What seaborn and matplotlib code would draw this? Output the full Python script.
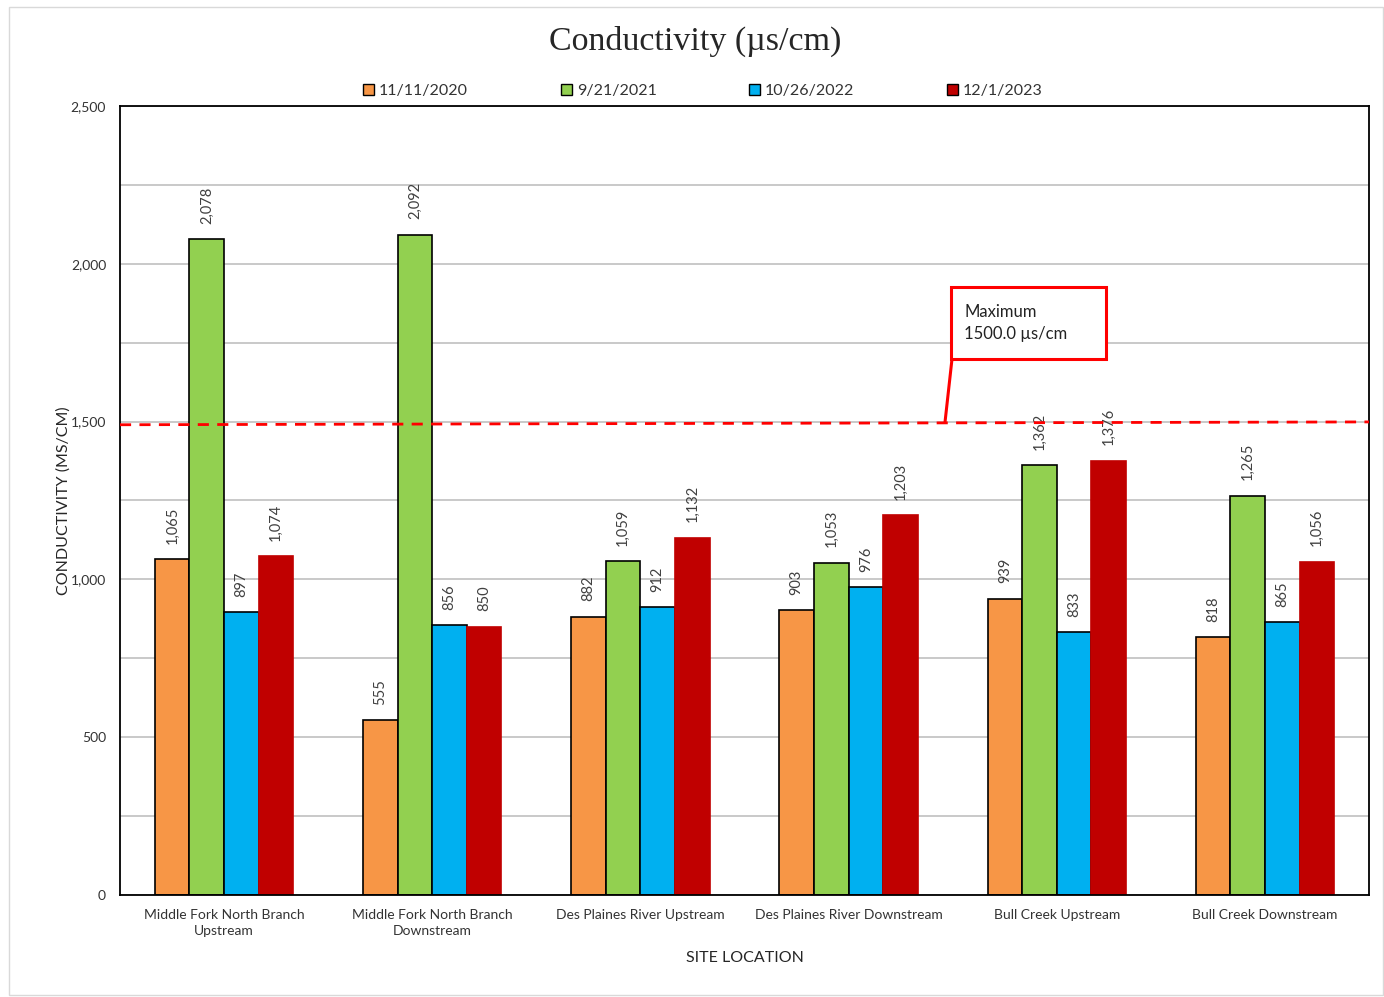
import matplotlib
matplotlib.use("Agg")
import matplotlib.pyplot as plt
from matplotlib.patches import Rectangle
from matplotlib.ticker import MultipleLocator, FuncFormatter
import seaborn as sns
import pandas as pd

# data
sites = [
    "Middle Fork North Branch\nUpstream",
    "Middle Fork North Branch\nDownstream",
    "Des Plaines River Upstream",
    "Des Plaines River Downstream",
    "Bull Creek Upstream",
    "Bull Creek Downstream",
]
dates = ["11/11/2020", "9/21/2021", "10/26/2022", "12/1/2023"]
cond_2020 = [1065, 555, 882, 903, 939, 818]
cond_2021 = [2078, 2092, 1059, 1053, 1362, 1265]
cond_2022 = [897, 856, 912, 976, 833, 865]
cond_2023 = [1074, 850, 1132, 1203, 1376, 1056]
limit_ends = [1490, 1499]  # dashed limit line drawn slightly sloped in the original
limit_label = "Maximum\n1500.0 µs/cm"

colors = ["#F79646", "#92D050", "#00B0F0", "#C00000"]
edges = ["black", "black", "black", "#C00000"]

rows = []
for date, vals in zip(dates, [cond_2020, cond_2021, cond_2022, cond_2023]):
    for site, v in zip(sites, vals):
        rows.append({"site": site, "date": date, "value": v})
df = pd.DataFrame(rows)

sns.set_theme(style="white")
plt.rcParams["font.family"] = ["Lato", "DejaVu Sans"]

W, H = 1384, 997
fig = plt.figure(figsize=(W / 100, H / 100), dpi=100)
ax = fig.add_axes([120 / W, 1 - 895 / H, (1369 - 120) / W, (895 - 106) / H])

sns.barplot(data=df, x="site", y="value", hue="date", hue_order=dates,
            order=sites, palette=colors, saturation=1, width=0.665, ax=ax,
            edgecolor="black", linewidth=1.2, errorbar=None, legend=False)

for cont, ec, vals in zip(ax.containers, edges,
                          [cond_2020, cond_2021, cond_2022, cond_2023]):
    for bar in cont:
        bar.set_edgecolor(ec)
    ax.bar_label(cont, labels=[f"{v:,}" for v in vals], rotation=90,
                 padding=11, fontsize=10.5, color="#404040")

ax.set_ylim(0, 2500)
ax.set_xlim(-0.5, len(sites) - 0.5)
ax.yaxis.set_major_locator(MultipleLocator(500))
ax.yaxis.set_minor_locator(MultipleLocator(250))
ax.yaxis.set_major_formatter(FuncFormatter(lambda v, p: f"{v:,.0f}"))
ax.grid(axis="y", which="both", color="#C0C0C0", lw=1.2)
ax.set_axisbelow(True)
for s in ax.spines.values():
    s.set_visible(True)
    s.set_color("black")
    s.set_linewidth(1.3)
ax.tick_params(axis="y", which="both", length=0, labelsize=10, pad=10,
               labelcolor="#333333")
ax.tick_params(axis="x", length=0, labelsize=10, pad=10, labelcolor="#333333")
for t in ax.get_xticklabels():
    t.set_linespacing(1.45)
ax.set_ylabel("CONDUCTIVITY (MS/CM)", fontsize=11.5, labelpad=0)
ax.set_xlabel("SITE LOCATION", fontsize=11.5, labelpad=10)

# limit line
ax.plot([-0.5, len(sites) - 0.5], limit_ends, color="red", lw=2,
        dashes=(4, 3), zorder=5)

# callout box
fig.patches.append(Rectangle((951 / W, 1 - 359 / H), 155 / W, 72 / H,
                             transform=fig.transFigure, fc="white",
                             ec="red", lw=2.2, zorder=6))
fig.text(964 / W, 1 - 323 / H, limit_label, fontsize=12, ha="left",
         va="center", linespacing=1.5, color="#222222", zorder=7)
ax.annotate("", xy=(3.463, 1497), xycoords="data",
            xytext=(952 / W, 1 - 359 / H), textcoords="figure fraction",
            arrowprops=dict(arrowstyle="-", color="red", lw=2.2,
                            shrinkA=0, shrinkB=0), zorder=6)

# legend
handles = [Rectangle((0, 0), 1, 1, fc=c, ec="black", lw=1) for c in colors]
fig.legend(handles, dates, loc="center", bbox_to_anchor=(703 / W, 1 - 91 / H),
           ncol=4, frameon=False, fontsize=11.5, handlelength=0.7,
           handleheight=0.7, handletextpad=0.3, columnspacing=5.8,
           labelcolor="#333333")

fig.suptitle("Conductivity (µs/cm)", x=695 / W, y=1 - 41 / H, va="center",
             fontsize=24.5, family=["Liberation Serif", "DejaVu Serif"])

# outer chart frame
fig.patches.append(Rectangle((9 / W, 1 - 995 / H), (1383 - 9) / W, (995 - 7) / H,
                             transform=fig.transFigure, fill=False,
                             ec="#D9D9D9", lw=1))

fig.savefig("out.png", dpi=100)
